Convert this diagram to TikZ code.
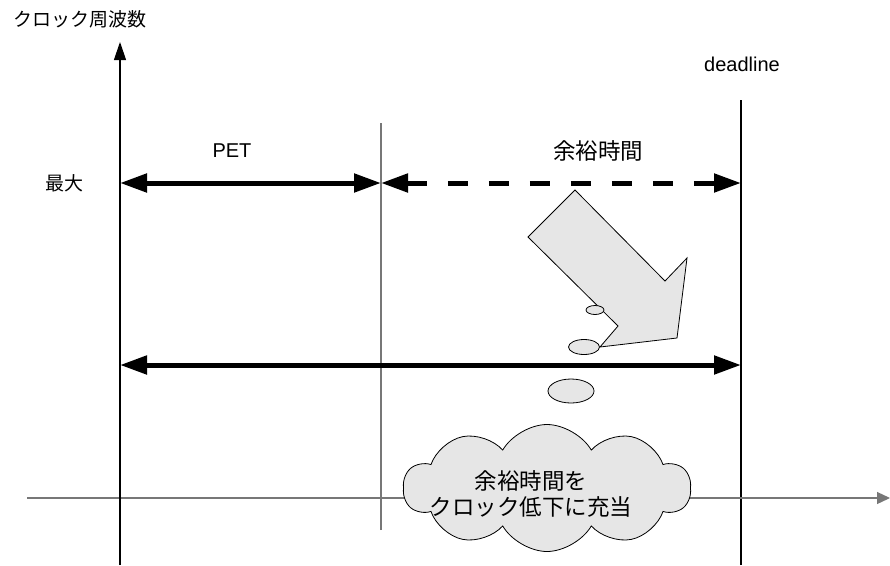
\documentclass[tikz,border=0pt]{standalone}
\usepackage{fontspec}
\setmainfont{Liberation Sans}
\newfontfamily\jp{Noto Sans CJK JP}
\usetikzlibrary{arrows.meta,shapes.geometric,shapes.symbols}
\definecolor{shapegray}{HTML}{E6E6E6}
\definecolor{axisgray}{HTML}{777777}
\begin{document}
\begin{tikzpicture}[x=1pt,y=-1pt,
  axisline/.style={line width=1.2pt},
  bigarrow/.style={line width=5pt,{Triangle[length=27pt,width=18pt]}-{Triangle[length=27pt,width=18pt]}},
  lbl/.style={inner sep=0pt,anchor=center},
  jpsmall/.style={lbl,font=\jp\fontsize{19}{22}\selectfont},
  jpbig/.style={lbl,font=\jp\fontsize{22.5}{27}\selectfont},
  latin/.style={lbl,font=\fontsize{20}{24}\selectfont},
  bubble/.style={ellipse,draw,fill=shapegray,line width=0.8pt,inner sep=0pt},
]
\useasboundingbox (0,0) rectangle (890,565);
% coordinates
\coordinate (ybot) at (120,565);
\coordinate (ytop) at (120,42);
\coordinate (xl) at (27,498);
\coordinate (xr) at (890,498);
\coordinate (pbot) at (381,530);
\coordinate (ptop) at (381,123);
\coordinate (dbot) at (741,565);
\coordinate (dtop) at (741,100);
\coordinate (a0) at (120,183);
\coordinate (a1) at (381,183);
\coordinate (a2) at (741,183);
\coordinate (b0) at (120,365);
\coordinate (b1) at (741,365);
% vertical lines
\draw[axisline,axisgray] (pbot) -- (ptop);
\draw[axisline] (dbot) -- (dtop);
% axes
\draw[axisline,axisgray,-{Triangle[length=13pt,width=12pt]}] (xl) -- (xr);
\draw[axisline,-{Triangle[length=18pt,width=12pt]}] (ybot) -- (ytop);
% interval arrows
\draw[bigarrow] (a0) -- (a1);
\draw[bigarrow,dash pattern=on 20pt off 21pt] (a1) -- (a2);
\draw[bigarrow] (b0) -- (b1);
% labels
\node[jpsmall] (ylabel) at (80,19) {クロック周波数};
\node[jpsmall] (maxlabel) at (64,183) {最大};
\node[latin] (pet) at (232,151) {PET};
\node[jpbig] (slack) at (598,151) {余裕時間};
\node[latin] (deadline) at (742,64) {deadline};
% block arrow (callout)
\draw[fill=shapegray,line width=0.8pt,line join=miter]
  (575,190) -- (665,281) -- (687,258) -- (677,338) -- (600,347) -- (618,326) -- (528,237) -- cycle;
\node[bubble,minimum width=18pt,minimum height=9pt] (e1) at (595,310) {};
\node[bubble,minimum width=31pt,minimum height=15pt] (e2) at (584,347) {};
\node[bubble,minimum width=46pt,minimum height=24pt] (e3) at (571,391) {};
% cloud
\node[cloud,cloud puffs=10,cloud puff arc=120,aspect=2.4,draw,fill=shapegray,line width=0.8pt,
      minimum width=287pt,minimum height=127pt,inner sep=0pt] (cloud) at (547,488) {};
\node[jpbig,align=center,font=\jp\fontsize{22.5}{26}\selectfont] (cloudtext) at (531,494) {余裕時間を\\クロック低下に充当};
\end{tikzpicture}
\end{document}
